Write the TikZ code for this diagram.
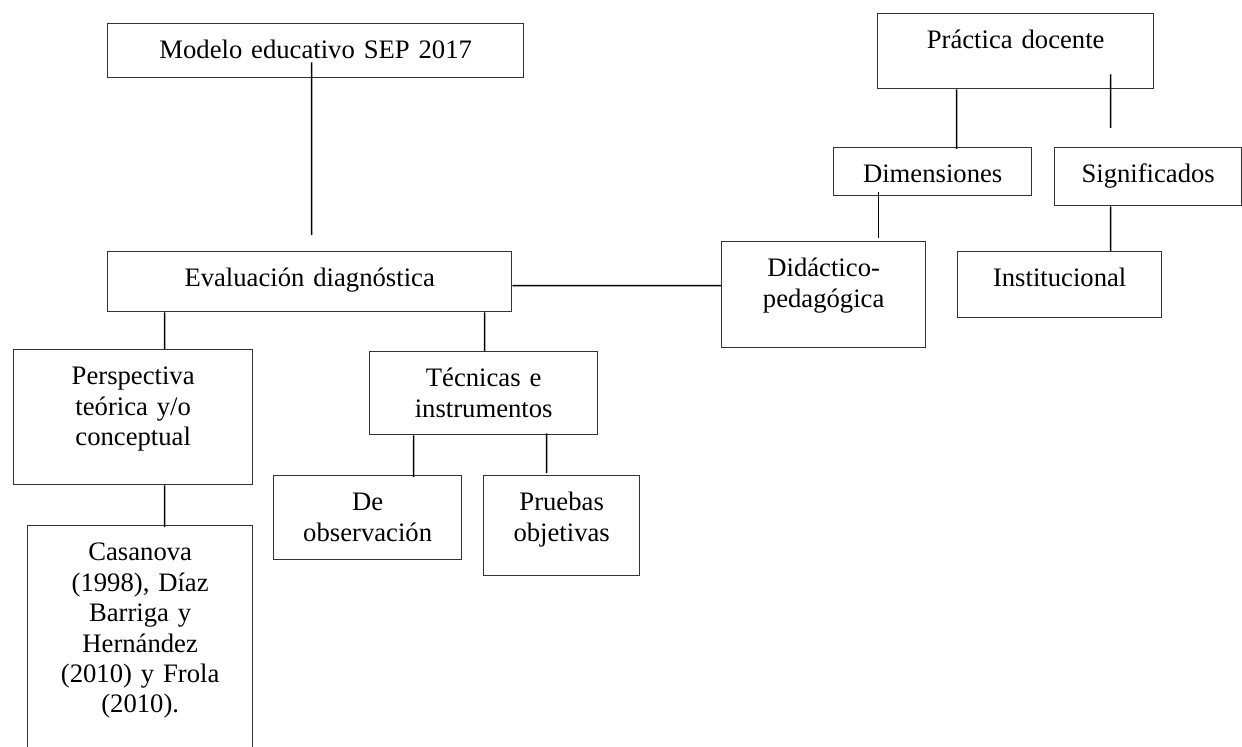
\documentclass[tikz,border=0pt]{standalone}
\usepackage{fontspec}
\setmainfont{Liberation Serif}
\usepackage{tikz}
\usetikzlibrary{calc}

\begin{document}
\begin{tikzpicture}[
        x=0.45pt, y=-0.45pt,
        % STYLES
        concept/.style={rectangle, draw=black!80, line width=0.6pt, inner sep=0pt, anchor=north west, align=center, text height=15.75pt, font=\fontsize{12}{13.7}\selectfont},
        % LINES
        branch/.style={black, line width=0.65pt}
    ]
    \useasboundingbox (0,0) rectangle (1242,747);

    % ===================================
    % 1. Modelo educativo y evaluacion
    % ===================================
    \node[concept, text width=187.2pt, text depth=8.55pt] (modelo) at (107,23) {Modelo educativo SEP 2017};
    \node[concept, text width=181.8pt, text depth=11.25pt] (evalua) at (107,251) {Evaluación diagnóstica};

    \node[concept, text width=107.55pt, text depth=45pt] (persp) at (13,349) {Perspectiva\\teórica y/o\\conceptual};
    \node[concept, text width=101.25pt, text depth=90pt] (casanova) at (27,525) {Casanova\\(1998), Díaz\\Barriga y\\Hernández\\(2010) y Frola\\(2010).};

    \node[concept, text width=102.6pt, text depth=21.6pt] (tecnic) at (369,351) {Técnicas e\\instrumentos};
    \node[concept, text width=84.6pt, text depth=22.05pt] (deobs) at (273,475) {De\\observación};
    \node[concept, text width=70.2pt, text depth=29.25pt] (pruebas) at (483,475) {Pruebas\\objetivas};

    % ===================================
    % 2. Practica docente
    % ===================================
    \node[concept, text width=124.2pt, text depth=18pt] (practica) at (877,13) {Práctica docente};
    \node[concept, text width=89.1pt, text depth=5.85pt] (dimens) at (833,147) {Dimensiones};
    \node[concept, text width=84.15pt, text depth=10.35pt] (signif) at (1054,147) {Significados};
    \node[concept, text width=91.8pt, text depth=31.95pt] (didact) at (721,241) {Didáctico-\\pedagógica};
    \node[concept, text width=91.8pt, text depth=13.95pt] (instit) at (957,251) {Institucional};

    % Lineas (no siempre tocan las cajas)
    \draw[branch] ($(modelo.south)+(-4,-16)$) -- ($(evalua.north)+(2,-16)$);
    \draw[branch] ($(evalua.south)+(-145,0)$) -- ($(persp.north)+(31.5,0)$);
    \draw[branch] ($(evalua.south)+(175,0)$) -- ($(tecnic.north)+(1,0)$);
    \draw[branch] ($(persp.south)+(31.5,0)$) -- ($(casanova.north)+(24.5,2)$);
    \draw[branch] ($(tecnic.south)+(-70,0)$) -- ($(deobs.north)+(46,2)$);
    \draw[branch] ($(tecnic.south)+(63,-2)$) -- ($(pruebas.north)+(-15,-2)$);
    \draw[branch] ($(evalua.east)+(0,4)$) -- ($(didact.west)+(0,-9)$);

    \draw[branch] ($(practica.south)+(-59,0)$) -- ($(dimens.north)+(24,2)$);
    \draw[branch] ($(practica.south)+(95,-15)$) -- ($(signif.north)+(-37.5,-19)$);
    \draw[branch] ($(dimens.south)+(-54,-4)$) -- ($(didact.north)+(55,-3)$);
    \draw[branch] ($(signif.south)+(-37.5,0)$) -- ($(instit.north)+(51,0)$);

\end{tikzpicture}
\end{document}
